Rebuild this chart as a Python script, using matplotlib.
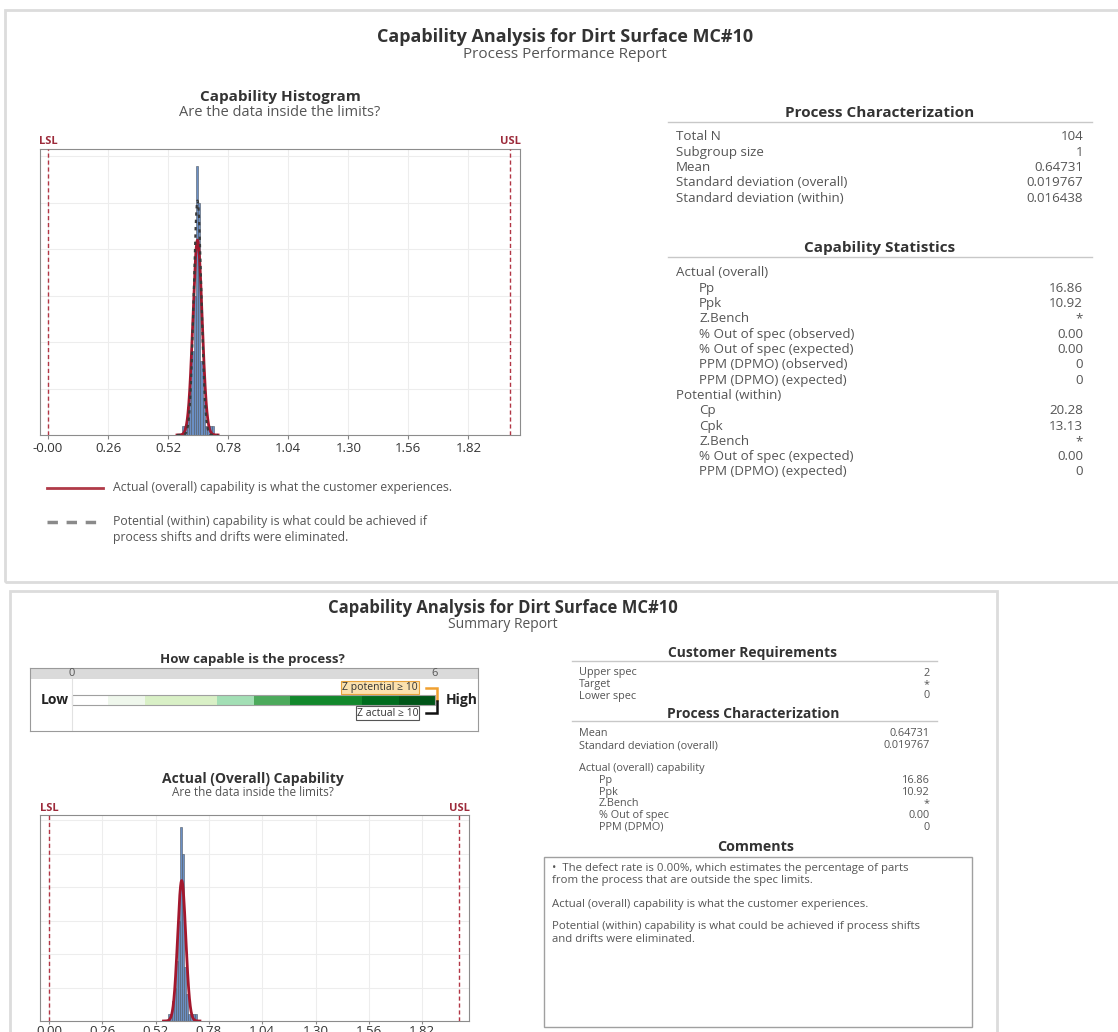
import numpy as np
import matplotlib
matplotlib.use('Agg')
import matplotlib.pyplot as plt
from matplotlib.patches import Rectangle
from matplotlib.lines import Line2D

W, H = 1118, 1032
plt.rcParams['font.family'] = ['Open Sans', 'DejaVu Sans']

# ---- data ----
lsl, usl = 0, 2
n_total = 104
mean = 0.64731
sd_overall = 0.019767
sd_within = 0.016438
bin_width = 0.01
bin_lefts = [0.58, 0.59, 0.60, 0.61, 0.62, 0.63, 0.64, 0.65, 0.66, 0.67, 0.68, 0.69, 0.70, 0.71]
counts = [1, 1, 3, 5, 9, 15, 29, 25, 8, 4, 1, 1, 1, 1]
tick_vals = [0, 0.26, 0.52, 0.78, 1.04, 1.30, 1.56, 1.82]
top_tick_labels = ['-0.00', '0.26', '0.52', '0.78', '1.04', '1.30', '1.56', '1.82']
bottom_tick_labels = ['0.00', '0.26', '0.52', '0.78', '1.04', '1.30', '1.56', '1.82']

proc_rows = [('Total N', '104'), ('Subgroup size', '1'), ('Mean', '0.64731'),
             ('Standard deviation (overall)', '0.019767'),
             ('Standard deviation (within)', '0.016438')]
cap_rows = [('Actual (overall)', '', 0), ('Pp', '16.86', 1), ('Ppk', '10.92', 1),
            ('Z.Bench', '*', 1), ('% Out of spec (observed)', '0.00', 1),
            ('% Out of spec (expected)', '0.00', 1), ('PPM (DPMO) (observed)', '0', 1),
            ('PPM (DPMO) (expected)', '0', 1), ('Potential (within)', '', 0),
            ('Cp', '20.28', 1), ('Cpk', '13.13', 1), ('Z.Bench', '*', 1),
            ('% Out of spec (expected)', '0.00', 1), ('PPM (DPMO) (expected)', '0', 1)]

req_rows = [('Upper spec', '2', 0), ('Target', '*', 0), ('Lower spec', '0', 0)]
sum_proc_rows = [('Mean', '0.64731', 0), ('Standard deviation (overall)', '0.019767', 0)]
sum_cap_rows = [('Actual (overall) capability', '', 0), ('Pp', '16.86', 1), ('Ppk', '10.92', 1),
                ('Z.Bench', '*', 1), ('% Out of spec', '0.00', 1), ('PPM (DPMO)', '0', 1)]
comments = [('\u2022  The defect rate is 0.00%, which estimates the percentage of parts', 869),
            ('from the process that are outside the spec limits.', 881),
            ('Actual (overall) capability is what the customer experiences.', 904),
            ('Potential (within) capability is what could be achieved if process shifts', 927),
            ('and drifts were eliminated.', 939)]

zbar_edges = [0, 0.6, 1.2, 2.4, 3.0, 3.6, 4.8, 5.4, 6]
zbar_colors = ['#ffffff', '#eff7ec', '#d9f0c6', '#a3dfb5', '#4caa5c', '#12882c', '#006c1e', '#005518']

fig = plt.figure(figsize=(W / 100, H / 100), dpi=100)


def axes_px(x0, y0, x1, y1):
    return fig.add_axes([x0 / W, 1 - y1 / H, (x1 - x0) / W, (y1 - y0) / H])


def txt(x, y, s, **kw):
    kw.setdefault('va', 'center')
    kw.setdefault('color', '#555555')
    fig.text(x / W, 1 - y / H, s, **kw)


def hline(x0, x1, y, color='#c8c8c8', lw=1, **kw):
    fig.add_artist(Line2D([x0 / W, x1 / W], [1 - y / H, 1 - y / H], color=color, lw=lw, **kw))


def frame(x0, y0, x1, y1, color='#dcdcdc', lw=1.5):
    fig.add_artist(Rectangle((x0 / W, 1 - y1 / H), (x1 - x0) / W, (y1 - y0) / H,
                             fill=False, edgecolor=color, lw=lw, clip_on=False))


def pdf(x, m, s):
    return np.exp(-0.5 * ((x - m) / s) ** 2) / (s * np.sqrt(2 * np.pi))


def cap_hist(box, px_lsl, px_usl, labels, within, fs, tick_len=3, pad=2):
    ax = axes_px(*box)
    scale = (px_usl - px_lsl) / (usl - lsl)
    ax.set_xlim(lsl + (box[0] - px_lsl) / scale, lsl + (box[2] - px_lsl) / scale)
    ax.set_ylim(0, 30.8)
    ax.bar(bin_lefts, counts, width=bin_width, align='edge', color='#6b8fc4',
           edgecolor='#4f5863', lw=0.4, zorder=2)
    xs = np.linspace(mean - 4.5 * sd_overall, mean + 4.5 * sd_overall, 300)
    k = n_total * bin_width
    ax.plot(xs, k * pdf(xs, mean, sd_overall), color='#a3182e', lw=2, zorder=3)
    if within:
        ax.plot(xs, k * pdf(xs, mean, sd_within), color='#3a3a3a', lw=1.6,
                ls=(0, (1.5, 1.8)), zorder=4)
    for v, name in [(lsl, 'LSL'), (usl, 'USL')]:
        ax.axvline(v, color='#b23645', ls=(0, (3, 2)), lw=1, zorder=3)
        ax.text(v, 1.006, name, transform=ax.get_xaxis_transform(), ha='center',
                va='bottom', color='#9c2a3a', fontsize=8, weight='bold')
    ax.set_xticks(tick_vals)
    ax.set_xticklabels(labels, fontsize=fs, color='#333333')
    ax.set_yticks([5, 10, 15, 20, 25, 30])
    ax.tick_params(axis='y', length=0, labelleft=False)
    ax.tick_params(axis='x', length=tick_len, color='#888888', pad=pad)
    ax.grid(color='#ededed', lw=0.8)
    ax.set_axisbelow(True)
    for sp in ax.spines.values():
        sp.set_color('#8c8c8c')
    return ax


def table(rows, y0, dy, xl, xr, indent, fs):
    for i, (lab, val, ind) in enumerate(rows):
        y = y0 + i * dy
        txt(xl + ind * indent, y, lab, fontsize=fs)
        txt(xr, y, val, fontsize=fs, ha='right')


# ---- panel frames ----
frame(5, 10, 1125, 582, lw=2)
frame(10, 591, 997, 1045, lw=2)

# ================= top panel: process performance report =================
txt(565, 37, 'Capability Analysis for Dirt Surface MC#10', fontsize=13, weight='bold',
    ha='center', color='#333333')
txt(565, 55, 'Process Performance Report', fontsize=11, ha='center')
txt(280, 97, 'Capability Histogram', fontsize=11, weight='bold', ha='center', color='#333333')
txt(280, 113, 'Are the data inside the limits?', fontsize=10.5, ha='center')

cap_hist((40, 149, 520, 435), 48, 510, top_tick_labels, True, 9.5)

fig.add_artist(Line2D([47 / W, 103 / W], [1 - 488 / H] * 2, color='#b03a48', lw=2))
fig.add_artist(Line2D([47 / W, 103 / W], [1 - 522 / H] * 2, color='#8a8a8a', lw=2.5,
                      ls=(0, (3, 2.5))))
txt(113, 488, 'Actual (overall) capability is what the customer experiences.', fontsize=8.8)
txt(113, 522, 'Potential (within) capability is what could be achieved if', fontsize=8.8)
txt(113, 538, 'process shifts and drifts were eliminated.', fontsize=8.8)

txt(880, 113, 'Process Characterization', fontsize=11, weight='bold', ha='center',
    color='#333333')
hline(668, 1092, 122)
table([(a, b, 0) for a, b in proc_rows], 137, 15.3, 676, 1083, 0, 9.6)

txt(880, 248, 'Capability Statistics', fontsize=11, weight='bold', ha='center',
    color='#333333')
hline(668, 1092, 257)
table(cap_rows, 273, 15.3, 676, 1083, 23, 9.6)

# ================= bottom panel: summary report =================
txt(503, 608, 'Capability Analysis for Dirt Surface MC#10', fontsize=12, weight='bold',
    ha='center', color='#333333')
txt(503, 624, 'Summary Report', fontsize=10, ha='center')

txt(252, 659, 'How capable is the process?', fontsize=9.5, weight='bold', ha='center',
    color='#333333')
zx0, zx1 = 72, 435
zs = (zx1 - zx0) / 6
bx = axes_px(30, 668, 478, 731)
bx.set_xlim((30 - zx0) / zs, (478 - zx0) / zs)
bx.set_ylim(731, 668)
bx.set_xticks([])
bx.set_yticks([])
for sp in bx.spines.values():
    sp.set_color('#9a9a9a')
bx.add_patch(Rectangle(((30 - zx0) / zs, 668), (478 - 30) / zs, 11, color='#dadada', lw=0))
bx.text(0, 673.5, '0', ha='center', va='center', fontsize=8, color='#555555')
bx.text(6, 673.5, '6', ha='center', va='center', fontsize=8, color='#555555')
bx.plot([0, 0], [679, 731], color='#e2e2e2', lw=0.8)
bx.barh(700, np.diff(zbar_edges), left=zbar_edges[:-1], height=10, color=zbar_colors, lw=0)
bx.add_patch(Rectangle((0, 695), 6, 10, fill=False, edgecolor='#a0a0a0', lw=0.8))
bx.text(-0.05, 700, 'Low', ha='right', va='center', fontsize=10, weight='bold', color='#222222')
bx.text(6.17, 700, 'High', ha='left', va='center', fontsize=10, weight='bold', color='#222222')
bx.text(5.72, 687.5, 'Z potential \u2265 10', ha='right', va='center', fontsize=7.5,
        color='#333333', bbox=dict(boxstyle='square,pad=0.1', fc='#fbe1ae', ec='#e8a33c', lw=0.8))
bx.text(5.72, 713, 'Z actual \u2265 10', ha='right', va='center', fontsize=7.5, color='#333333',
        bbox=dict(boxstyle='square,pad=0.1', fc='white', ec='#555555', lw=0.8))
bx.plot([5.85, 6.03, 6.03], [687.5, 687.5, 699.5], color='#f0a030', lw=1.8,
        solid_joinstyle='miter')
bx.plot([5.85, 6.03, 6.03], [713, 713, 700.5], color='#111111', lw=1.8,
        solid_joinstyle='miter')

txt(253, 779, 'Actual (Overall) Capability', fontsize=10, weight='bold', ha='center',
    color='#333333')
txt(253, 792, 'Are the data inside the limits?', fontsize=8.5, ha='center')
cap_hist((40, 815, 469, 1021), 49, 459, bottom_tick_labels, False, 9.5, tick_len=2, pad=1)

txt(753, 653, 'Customer Requirements', fontsize=10, weight='bold', ha='center', color='#333333')
hline(572, 937, 661)
table(req_rows, 673, 11.5, 579, 930, 20, 7.8)
txt(753, 714, 'Process Characterization', fontsize=10, weight='bold', ha='center',
    color='#333333')
hline(572, 937, 721)
table(sum_proc_rows, 734, 11.5, 579, 930, 20, 7.8)
table(sum_cap_rows, 769, 11.6, 579, 930, 20, 7.8)

txt(756, 847, 'Comments', fontsize=10.3, weight='bold', ha='center', color='#333333')
frame(544, 857, 972, 1027, color='#a0a0a0', lw=1)
for line, y in comments:
    txt(552, y, line, fontsize=8.2)

fig.savefig('out.png', dpi=100)
